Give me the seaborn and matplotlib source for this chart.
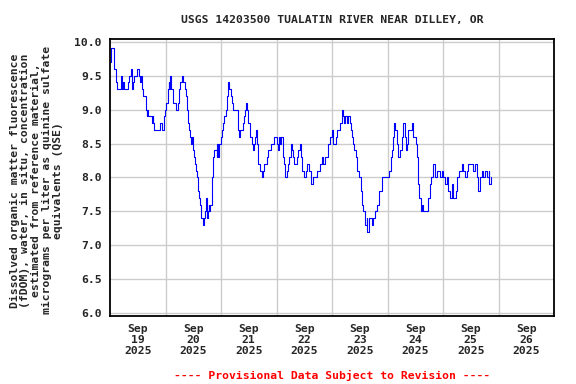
import matplotlib
matplotlib.use("Agg")
import matplotlib.pyplot as plt
import seaborn as sns
import pandas as pd
import numpy as np

# ---- data: hours since 2025-09-19 00:00 and fDOM values (ug/L QSE) ----
sep19_h = [0.0, 0.4, 1.4, 1.7, 2.5, 2.9, 4.3, 4.6, 5.1, 5.8, 6.1, 7.5, 7.9, 8.4, 8.9, 9.4, 9.7,
           10.1, 10.5, 11.2, 11.8, 12.3, 12.7, 13.0, 13.3, 13.7, 14.4, 14.9, 15.6, 15.9, 16.2,
           16.6, 17.6, 18.0, 18.5, 18.7, 19.0, 21.3, 21.6, 22.3, 23.1, 23.5, 23.9]
sep19_v = [9.7, 9.9, 9.9, 9.6, 9.4, 9.3, 9.3, 9.5, 9.3, 9.4, 9.3, 9.3, 9.4, 9.5, 9.6, 9.5, 9.3,
           9.4, 9.5, 9.5, 9.6, 9.6, 9.5, 9.4, 9.5, 9.3, 9.2, 9.2, 9.0, 8.9, 9.0,
           8.9, 8.9, 8.8, 8.9, 8.8, 8.7, 8.7, 8.8, 8.7, 8.7, 8.9, 9.0]

sep20_h = [24.4, 24.9, 25.5, 25.7, 26.1, 26.4, 27.1, 27.4, 28.4, 29.3, 29.6, 29.8, 30.3, 31.0,
           31.7, 32.4, 32.9, 33.4, 33.9, 34.3, 34.6, 35.2, 35.6, 36.0, 36.5, 36.8, 37.2, 37.5,
           37.9, 38.5, 38.9, 39.2, 39.5, 39.9, 40.4, 40.7, 41.0, 41.4, 41.8, 42.2, 42.7, 43.0,
           43.2, 43.7, 44.0, 44.3, 44.7, 45.1, 45.7, 46.1, 46.4, 46.8, 47.1, 47.9]
sep20_v = [9.1, 9.3, 9.4, 9.3, 9.5, 9.3, 9.2, 9.1, 9.0, 9.0, 9.1, 9.3, 9.4, 9.5,
           9.4, 9.3, 9.2, 9.0, 8.8, 8.7, 8.6, 8.5, 8.6, 8.4, 8.3, 8.2, 8.1, 8.0,
           7.8, 7.7, 7.6, 7.5, 7.4, 7.4, 7.3, 7.4, 7.5, 7.7, 7.4, 7.5, 7.6, 7.5,
           7.6, 7.6, 7.7, 8.0, 8.3, 8.4, 8.4, 8.3, 8.5, 8.3, 8.5, 8.6]

sep21_h = [48.3, 48.7, 49.3, 50.0, 50.5, 50.9, 51.2, 51.6, 52.3, 52.9, 53.3, 53.8, 54.1, 54.8,
           55.2, 55.5, 55.9, 56.2, 57.4, 58.0, 58.4, 58.8, 59.4, 59.8, 60.6, 61.3, 62.0, 62.4,
           62.7, 63.0, 63.4, 64.1, 64.9, 65.6, 66.3, 66.7, 67.3, 67.8, 68.5, 69.5, 70.4, 71.1]
sep21_v = [8.7, 8.8, 8.9, 9.0, 9.2, 9.3, 9.4, 9.3, 9.2, 9.1, 9.0, 9.0, 9.0, 9.0,
           8.8, 8.7, 8.6, 8.7, 8.8, 8.9, 9.0, 9.1, 9.0, 8.8, 8.6, 8.5, 8.4, 8.5,
           8.6, 8.7, 8.5, 8.2, 8.1, 8.0, 8.1, 8.2, 8.2, 8.3, 8.4, 8.5, 8.5, 8.6]

sep22_h = [72.1, 72.5, 73.1, 73.5, 73.9, 74.7, 75.3, 75.8, 76.4, 77.1, 77.5, 78.1, 78.7, 79.3,
           79.7, 80.7, 81.4, 82.2, 82.6, 83.0, 83.9, 84.6, 85.3, 86.2, 86.9, 87.6, 89.4, 90.8,
           91.5, 92.3, 93.0, 94.4, 95.1, 95.9]
sep22_v = [8.5, 8.4, 8.6, 8.5, 8.6, 8.3, 8.2, 8.0, 8.1, 8.2, 8.3, 8.5, 8.4, 8.3,
           8.2, 8.3, 8.4, 8.5, 8.3, 8.1, 8.0, 8.1, 8.2, 8.1, 7.9, 8.0, 8.1, 8.2,
           8.3, 8.2, 8.3, 8.5, 8.6, 8.7]

sep23_h = [96.6, 97.6, 98.3, 98.7, 99.5, 100.2, 100.6, 101.2, 101.6, 102.3, 103.1, 103.8, 104.2,
           104.8, 105.2, 105.5, 106.2, 107.0, 107.8, 108.5, 109.1, 109.5, 110.3, 111.0, 111.3,
           112.1, 113.1, 113.9, 114.6, 115.3, 116.5, 117.5, 118.9]
sep23_v = [8.5, 8.6, 8.7, 8.7, 8.8, 9.0, 8.9, 8.8, 8.9, 8.8, 8.9, 8.8, 8.7,
           8.6, 8.5, 8.4, 8.3, 8.1, 8.0, 7.8, 7.6, 7.5, 7.3, 7.4, 7.2,
           7.4, 7.3, 7.4, 7.5, 7.6, 7.8, 8.0, 8.0]

sep24_h = [120.8, 121.4, 122.0, 122.2, 122.8, 123.4, 124.3, 124.7, 125.4, 126.1, 126.8, 127.4,
           127.8, 128.3, 129.0, 130.4, 130.9, 132.2, 132.6, 133.0, 133.3, 133.8, 134.3, 134.8,
           135.5, 136.2, 136.9, 137.6, 138.4, 138.8, 139.5, 139.8, 140.5, 141.3, 142.7, 143.4,
           143.9]
sep24_v = [8.1, 8.3, 8.4, 8.6, 8.8, 8.7, 8.5, 8.3, 8.4, 8.6, 8.8, 8.6,
           8.4, 8.5, 8.7, 8.8, 8.6, 8.5, 8.3, 8.1, 7.9, 7.7, 7.5, 7.6,
           7.5, 7.5, 7.5, 7.7, 7.9, 8.0, 8.1, 8.2, 8.0, 8.1, 8.0, 8.1,
           8.0]

sep25_h = [144.9, 145.6, 146.3, 147.0, 147.8, 148.5, 149.6, 150.2, 151.1, 152.1, 152.8, 153.5,
           154.3, 155.0, 156.4, 157.1, 157.9, 158.6, 159.3, 160.0, 160.8, 161.5, 162.2, 162.9,
           163.7, 164.1, 164.7]
sep25_v = [7.9, 8.0, 7.8, 7.7, 7.9, 7.7, 7.8, 8.0, 8.1, 8.2, 8.1, 8.0,
           8.1, 8.2, 8.2, 8.1, 8.2, 8.0, 7.8, 8.0, 8.1, 8.0, 8.1, 8.0,
           8.1, 7.9, 8.0]

tick_days = ["19", "20", "21", "22", "23", "24", "25", "26"]
tick_month = "Sep"
tick_year = "2025"
title = "USGS 14203500 TUALATIN RIVER NEAR DILLEY, OR"
ylabel = ("Dissolved organic matter fluorescence\n(fDOM), water, in situ, concentration\n"
          "estimated from reference material,\nmicrograms per liter as quinine sulfate\n"
          "equivalents (QSE)")
footer = "---- Provisional Data Subject to Revision ----"

hours = sep19_h + sep20_h + sep21_h + sep22_h + sep23_h + sep24_h + sep25_h
values = sep19_v + sep20_v + sep21_v + sep22_v + sep23_v + sep24_v + sep25_v

start = pd.Timestamp("2025-09-19 00:00")
df = pd.DataFrame({"time": start + pd.to_timedelta(hours, unit="h"), "fdom": values})

sns.set_theme(style="white")
mono = "DejaVu Sans Mono"
plt.rcParams["font.family"] = [mono]
plt.rcParams["font.weight"] = "bold"
fs = 8.2

fig = plt.figure(figsize=(5.76, 3.84), dpi=100)
ax = fig.add_axes([110 / 576, 1 - 316 / 384, 444 / 576, (316 - 39.3) / 384])

sns.lineplot(data=df, x="time", y="fdom", ax=ax, color="#0000ff", lw=0.8,
             drawstyle="steps-post", sort=True, estimator=None)

ax.set_xlim(start, start + pd.Timedelta(days=8))
ax.set_ylim(5.96, 10.035)

yt = np.arange(6.0, 10.01, 0.5)
ax.set_yticks(yt)
ax.set_yticklabels([f"{v:.1f}" for v in yt], fontsize=fs, fontweight="bold", family=mono)

noon = [start + pd.Timedelta(days=i, hours=12) for i in range(len(tick_days))]
ax.set_xticks(noon)
ax.set_xticklabels([f"{tick_month}\n{d}\n{tick_year}" for d in tick_days],
                   fontsize=fs, fontweight="bold", family=mono, linespacing=1.1)
midn = [start + pd.Timedelta(days=i) for i in range(1, 8)]
ax.set_xticks(midn, minor=True)

ax.grid(False)
ax.grid(True, which="minor", axis="x", color="#cccccc", lw=1.0)
ax.grid(True, which="major", axis="y", color="#cccccc", lw=1.0)
ax.set_axisbelow(True)
ax.tick_params(axis="both", which="both", length=0)
ax.tick_params(axis="y", pad=6)
ax.tick_params(axis="x", pad=6)

for s in ax.spines.values():
    s.set_color("black")
    s.set_linewidth(1.3)

ax.set_xlabel("")
ax.set_ylabel(ylabel, fontsize=fs, fontweight="bold", family=mono, linespacing=1.1,
              multialignment="center")
ax.yaxis.set_label_coords(-0.166, 0.49)
ax.yaxis.label.set_va("center")
ax.yaxis.label.set_ha("center")

cx = (110 + 554) / 2 / 576
fig.text(cx, 1 - 20 / 384, title, ha="center", va="center", fontsize=fs,
         fontweight="bold", family=mono)
fig.text(cx, 1 - 375 / 384, footer, ha="center", va="center", fontsize=fs,
         fontweight="bold", family=mono, color="#ff0000")

fig.savefig("out.png", dpi=100)
